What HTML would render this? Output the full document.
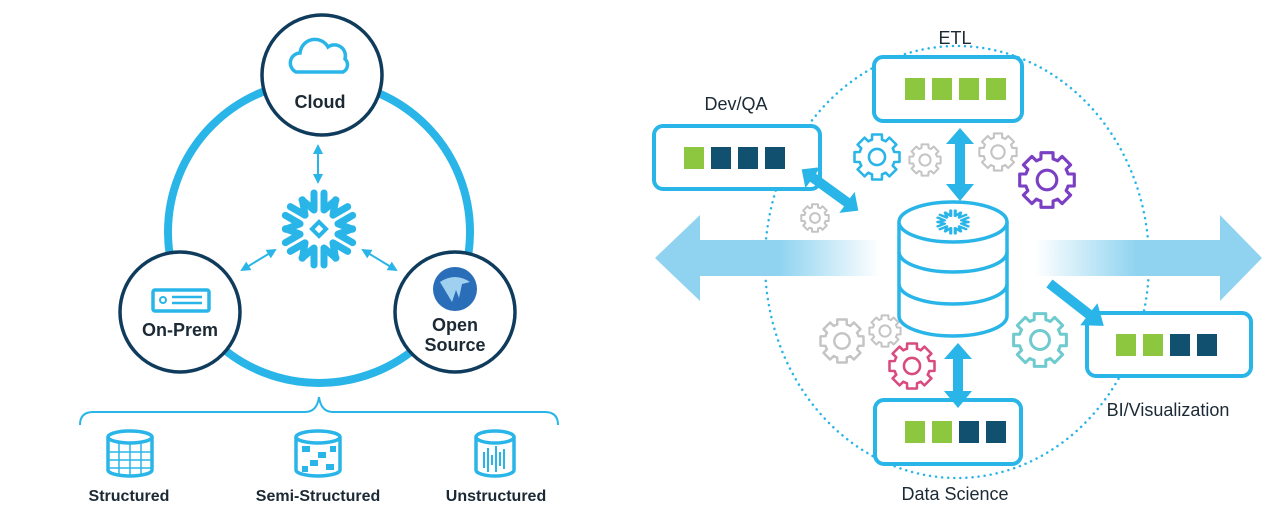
<!DOCTYPE html>
<html><head><meta charset="utf-8">
<style>
html,body{margin:0;padding:0;background:#fff;}
svg{display:block;}
text{font-family:"Liberation Sans",sans-serif;}
</style></head>
<body>
<svg id="s" width="1280" height="524" viewBox="0 0 1280 524" xmlns="http://www.w3.org/2000/svg">
<defs>
<linearGradient id="gl" x1="0" x2="1" y1="0" y2="0">
<stop offset="0" stop-color="#8fd3f0"/><stop offset="0.55" stop-color="#8fd3f0"/><stop offset="1" stop-color="#8fd3f0" stop-opacity="0"/>
</linearGradient>
<linearGradient id="gr" x1="1" x2="0" y1="0" y2="0">
<stop offset="0" stop-color="#8fd3f0"/><stop offset="0.55" stop-color="#8fd3f0"/><stop offset="1" stop-color="#8fd3f0" stop-opacity="0"/>
</linearGradient>
<marker id="ah" viewBox="0 0 10 10" refX="8" refY="5" markerWidth="5" markerHeight="5" orient="auto-start-reverse"><path d="M0,0L10,5L0,10z" fill="#29b5e8"/></marker>
</defs>

<!-- LEFT -->
<circle cx="319" cy="232" r="151" fill="none" stroke="#29b5e8" stroke-width="8"/>
<g stroke="#29b5e8" stroke-width="2" marker-start="url(#ah)" marker-end="url(#ah)">
<line x1="318" y1="146" x2="318" y2="182"/>
<line x1="242" y1="270" x2="275" y2="250"/>
<line x1="363" y1="250" x2="396" y2="270"/>
</g>
<g id="snow" transform="translate(319,229)" stroke="#29b5e8" stroke-width="7" stroke-linecap="round" fill="none"></g>
<rect x="314" y="224" width="10" height="10" transform="rotate(45 319 229)" fill="none" stroke="#29b5e8" stroke-width="4"/>

<circle cx="322" cy="75" r="60" fill="#fff" stroke="#0f3b5c" stroke-width="3.5"/>
<path d="M296,72 a10,10 0 0 1 4,-19 a15,15 0 0 1 28,-6 a11,11 0 0 1 17,12 a8,8 0 0 1 -2,13 z" fill="none" stroke="#29b5e8" stroke-width="3.5"/>
<text x="320" y="108" text-anchor="middle" font-size="18" font-weight="bold" fill="#1b2a35">Cloud</text>

<circle cx="180" cy="312" r="60" fill="#fff" stroke="#0f3b5c" stroke-width="3.5"/>
<rect x="153" y="290" width="56" height="21" rx="2" fill="none" stroke="#29b5e8" stroke-width="3.5"/>
<circle cx="163" cy="300" r="3" fill="none" stroke="#29b5e8" stroke-width="2"/>
<line x1="172" y1="297" x2="202" y2="297" stroke="#29b5e8" stroke-width="2.5"/>
<line x1="172" y1="303" x2="202" y2="303" stroke="#29b5e8" stroke-width="2.5"/>
<text x="180" y="336" text-anchor="middle" font-size="18" font-weight="bold" fill="#1b2a35">On-Prem</text>

<circle cx="455" cy="312" r="60" fill="#fff" stroke="#0f3b5c" stroke-width="3.5"/>
<circle cx="455" cy="289" r="22" fill="#2a6db8"/>
<path d="M440,282 q15,-10 30,0 l-8,2 l-3,14 l-3,-8 l-4,12 z" fill="#9fd0ef"/>
<text x="455" y="331" text-anchor="middle" font-size="18" font-weight="bold" fill="#1b2a35">Open</text>
<text x="455" y="351" text-anchor="middle" font-size="18" font-weight="bold" fill="#1b2a35">Source</text>

<path d="M80,425 q0,-13 13,-13 L305,412 q12,0 14,-15 q2,15 14,15 L545,412 q13,0 13,13" fill="none" stroke="#29b5e8" stroke-width="2"/>
<g fill="none" stroke="#29b5e8" stroke-width="3.5">
<path d="M108,437 v33 a22,6 0 0 0 44,0 v-33"/><ellipse cx="130" cy="437" rx="22" ry="6"/>
<path d="M296,437 v33 a22,6 0 0 0 44,0 v-33"/><ellipse cx="318" cy="437" rx="22" ry="6"/>
<path d="M476,437 v33 a19,6 0 0 0 38,0 v-33"/><ellipse cx="495" cy="437" rx="19" ry="6"/>
</g>
<g stroke="#29b5e8" stroke-width="1.5">
<path d="M108,452h44M108,460h44M108,468h44M119,443v33M130,443v34M141,443v33"/>
</g>
<g fill="#29b5e8"><rect x="302" y="446" width="8" height="6"/><rect x="318" y="452" width="8" height="6"/><rect x="310" y="460" width="8" height="6"/><rect x="326" y="464" width="8" height="6"/><rect x="302" y="466" width="6" height="6"/><rect x="330" y="446" width="6" height="6"/></g>
<g stroke="#29b5e8" stroke-width="2"><path d="M484,452v16M488,448v24M492,455v10M496,446v26M500,452v14M504,449v20"/></g>
<g font-size="16" font-weight="bold" fill="#1b2a35" text-anchor="middle">
<text x="129" y="501">Structured</text><text x="318" y="501">Semi-Structured</text><text x="496" y="501">Unstructured</text>
</g>

<!-- RIGHT -->
<ellipse cx="957" cy="262" rx="192" ry="216" fill="none" stroke="#29b5e8" stroke-width="2.5" stroke-dasharray="0.1 6" stroke-linecap="round"/>
<path d="M880,240 L700,240 L700,215 L655,258 L700,301 L700,276 L880,276 z" fill="url(#gl)"/>
<path d="M1035,240 L1220,240 L1220,215 L1262,258 L1220,301 L1220,276 L1035,276 z" fill="url(#gr)"/>

<g id="gears"></g>

<!-- DB -->
<g fill="#fff" stroke="#29b5e8" stroke-width="3.5">
<path d="M899,222 v94 a54,20 0 0 0 108,0 v-94"/>
<path d="M899,252 a54,20 0 0 0 108,0" fill="none"/>
<path d="M899,284 a54,20 0 0 0 108,0" fill="none"/>
<ellipse cx="953" cy="222" rx="54" ry="20"/>
</g>
<g id="snow2" transform="translate(953,222) scale(0.45,0.32)" stroke="#29b5e8" stroke-width="7" stroke-linecap="round" fill="none"></g>

<!-- boxes -->
<g fill="#fff" stroke="#29b5e8" stroke-width="4">
<rect x="874" y="57" width="148" height="64" rx="9"/>
<rect x="654" y="126" width="166" height="63" rx="9"/>
<rect x="875" y="400" width="146" height="64" rx="9"/>
<rect x="1087" y="313" width="164" height="63" rx="9"/>
</g>
<g fill="#8dc63f">
<rect x="905" y="78" width="20" height="22"/><rect x="932" y="78" width="20" height="22"/><rect x="959" y="78" width="20" height="22"/><rect x="986" y="78" width="20" height="22"/>
<rect x="684" y="147" width="20" height="22"/>
<rect x="905" y="421" width="20" height="22"/><rect x="932" y="421" width="20" height="22"/>
<rect x="1116" y="334" width="20" height="22"/><rect x="1143" y="334" width="20" height="22"/>
</g>
<g fill="#11506e">
<rect x="711" y="147" width="20" height="22"/><rect x="738" y="147" width="20" height="22"/><rect x="765" y="147" width="20" height="22"/>
<rect x="959" y="421" width="20" height="22"/><rect x="986" y="421" width="20" height="22"/>
<rect x="1170" y="334" width="20" height="22"/><rect x="1197" y="334" width="20" height="22"/>
</g>

<!-- thick arrows -->
<g fill="#29b5e8">
<path d="M960,128 l-14,16 h9 v40 h-9 l14,17 l14,-17 h-9 v-40 h9 z"/>
<path d="M958,343 l-14,16 h9 v32 h-9 l14,17 l14,-17 h-9 v-32 h9 z"/>
<g transform="translate(830,190) rotate(36)"><path d="M-35,0 l14,-13 v8 h42 v-8 l14,13 l-14,13 v-8 h-42 v8 z"/></g>
<g transform="translate(1077,305) rotate(38)"><path d="M-35,-5 h50 v-9 l19,14 l-19,14 v-9 h-50 z"/></g>
</g>

<g font-size="18" fill="#1b2a35" text-anchor="middle">
<text x="955" y="44">ETL</text>
<text x="736" y="110">Dev/QA</text>
<text x="955" y="500">Data Science</text>
<text x="1168" y="416">BI/Visualization</text>
</g>
</svg>
<script>
var NS="http://www.w3.org/2000/svg";
function mk(t,a,p){var e=document.createElementNS(NS,t);for(var k in a)e.setAttribute(k,a[k]);p.appendChild(e);return e;}
function snow(id){var g=document.getElementById(id);
for(var i=0;i<6;i++){var a=i*60+90;var h=mk('g',{transform:'rotate('+a+')'},g);
mk('path',{d:'M19,-5 L36,-5 M19,5 L36,5 M19,-5 L29,-17 M19,5 L29,17'},h);}
}
snow('snow');snow('snow2');
function gear(cx,cy,R,col){var g=document.getElementById('gears');var n=8,pts=[];
var r1=R*0.78;for(var i=0;i<n;i++){var b=i*2*Math.PI/n;var w=Math.PI/n*0.55;
[[b-w*1.3,r1],[b-w,R],[b+w,R],[b+w*1.3,r1],[b+Math.PI/n,r1]].forEach(function(p){pts.push((cx+p[1]*Math.cos(p[0])).toFixed(1)+','+(cy+p[1]*Math.sin(p[0])).toFixed(1));});}
var sw=Math.max(2,R/9);
mk('polygon',{points:pts.join(' '),fill:'#fff',stroke:col,'stroke-width':sw,'stroke-linejoin':'round'},g);
mk('circle',{cx:cx,cy:cy,r:R*0.35,fill:'none',stroke:col,'stroke-width':sw},g);}
gear(877,157,23,'#29b5e8');gear(925,160,16,'#c4c4c4');gear(998,152,19,'#c4c4c4');
gear(1047,180,28,'#7b3fc4');gear(815,218,14,'#c4c4c4');gear(842,341,22,'#c4c4c4');
gear(885,331,16,'#c4c4c4');gear(912,366,23,'#d94a7f');gear(1040,340,27,'#6fcad0');
</script>
</body></html>
